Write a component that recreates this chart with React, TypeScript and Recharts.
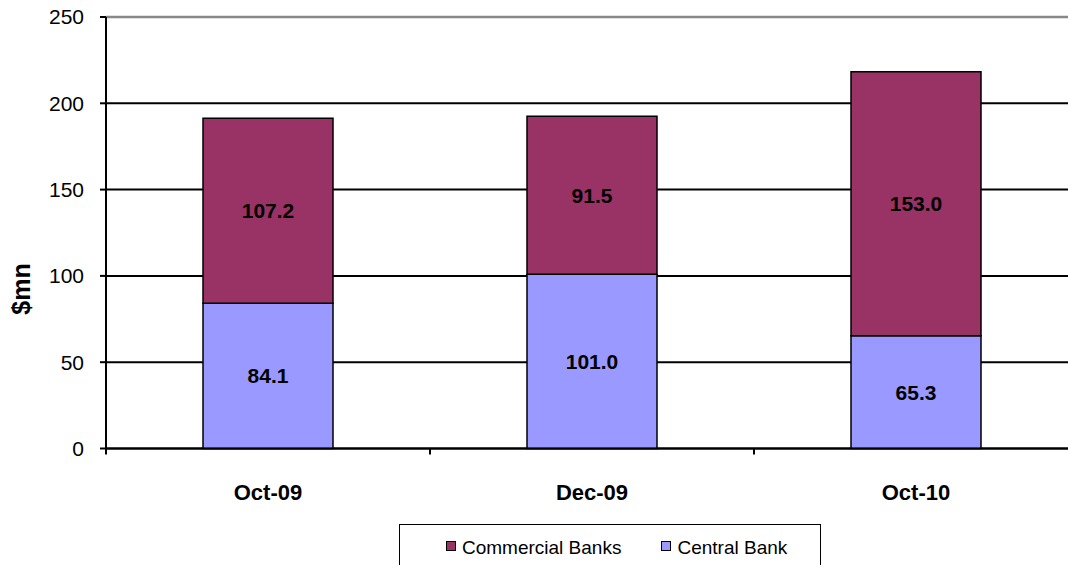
import { BarChart, Bar, XAxis, YAxis, CartesianGrid, LabelList, Legend, ReferenceLine } from 'recharts';

const periods = ['Oct-09', 'Dec-09', 'Oct-10'];
const centralBank = [84.1, 101.0, 65.3];
const commercialBanks = [107.2, 91.5, 153.0];
const yTicks = [0, 50, 100, 150, 200, 250];
const seriesNames = { commercial: 'Commercial Banks', central: 'Central Bank' };

const data = periods.map((period, i) => ({
  period,
  central: centralBank[i],
  commercial: commercialBanks[i],
}));

const FONT = '"Liberation Sans", Arial, sans-serif';
const COMMERCIAL = '#993366';
const CENTRAL = '#9999FF';

// category label centred in the band, tick mark on the band's left edge
function CategoryTick(props: any) {
  const { x, y, payload } = props;
  const half = payload.offset ?? 162;
  return (
    <g>
      <line x1={x - half} y1={y} x2={x - half} y2={y + 6} stroke="#000" strokeWidth={2} />
      <text x={x} y={y + 51} textAnchor="middle" fontFamily={FONT} fontSize={22} fontWeight="bold" fill="#000">
        {payload.value}
      </text>
    </g>
  );
}

function AxisTitle() {
  return (
    <text
      x={21}
      y={289}
      transform="rotate(-90 21 289)"
      textAnchor="middle"
      dominantBaseline="central"
      fontFamily={FONT}
      fontSize={25}
      fontWeight="bold"
      fill="#000"
    >
      $mn
    </text>
  );
}

function LegendBox() {
  const items = [
    { name: seriesNames.commercial, color: COMMERCIAL },
    { name: seriesNames.central, color: CENTRAL },
  ];
  return (
    <div style={{ display: 'flex', alignItems: 'center', paddingLeft: 46, paddingTop: 12, gap: 40 }}>
      {items.map((it) => (
        <div key={it.name} style={{ display: 'flex', alignItems: 'center' }}>
          <span
            style={{
              display: 'inline-block',
              width: 8,
              height: 8,
              background: it.color,
              border: '1px solid #000',
              marginRight: 6,
              marginTop: -4,
            }}
          />
          <span style={{ fontFamily: FONT, fontSize: 19, color: '#000', lineHeight: '22px' }}>{it.name}</span>
        </div>
      ))}
    </div>
  );
}

export default function App() {
  return (
    <div style={{ position: 'relative', width: 1068, height: 565, overflow: 'hidden', background: '#fff' }}>
      <style>{'body{margin:0}'}</style>
      <BarChart width={1078} height={565} data={data} margin={{ top: 17, right: 0, bottom: 56.5, left: 1 }}>
        <CartesianGrid vertical={false} stroke="#000" strokeWidth={2} />
        <ReferenceLine y={250} stroke="#888" strokeWidth={2.5} />
        <XAxis
          dataKey="period"
          height={60}
          axisLine={{ stroke: '#000', strokeWidth: 2 }}
          tickLine={false}
          tickSize={0}
          tickMargin={0}
          tick={<CategoryTick />}
          interval={0}
        />
        <YAxis
          width={105}
          domain={[0, 250]}
          ticks={yTicks}
          interval={0}
          axisLine={{ stroke: '#000', strokeWidth: 2 }}
          tickLine={{ stroke: '#000', strokeWidth: 2 }}
          tickSize={6}
          tickMargin={16}
          tick={{ fontFamily: FONT, fontSize: 21, fill: '#000' }}
          label={{ content: () => <AxisTitle /> }}
        />
        <Bar dataKey="central" stackId="a" name={seriesNames.central} fill={CENTRAL} stroke="#000" strokeWidth={1.5} barSize={130} isAnimationActive={false}>
          <LabelList dataKey="central" position="center" formatter={(v: any) => Number(v).toFixed(1)} fontFamily={FONT} fontSize={21} fontWeight="bold" fill="#000" />
        </Bar>
        <Bar dataKey="commercial" stackId="a" name={seriesNames.commercial} fill={COMMERCIAL} stroke="#000" strokeWidth={1.5} barSize={130} isAnimationActive={false}>
          <LabelList dataKey="commercial" position="center" formatter={(v: any) => Number(v).toFixed(1)} fontFamily={FONT} fontSize={21} fontWeight="bold" fill="#000" />
        </Bar>
        <Legend
          layout="horizontal"
          verticalAlign="middle"
          align="center"
          content={() => <LegendBox />}
          wrapperStyle={{
            position: 'absolute',
            left: 399,
            top: 524,
            width: 422,
            height: 60,
            border: '1.5px solid #000',
            boxSizing: 'border-box',
            background: '#fff',
          }}
        />
      </BarChart>
    </div>
  );
}
